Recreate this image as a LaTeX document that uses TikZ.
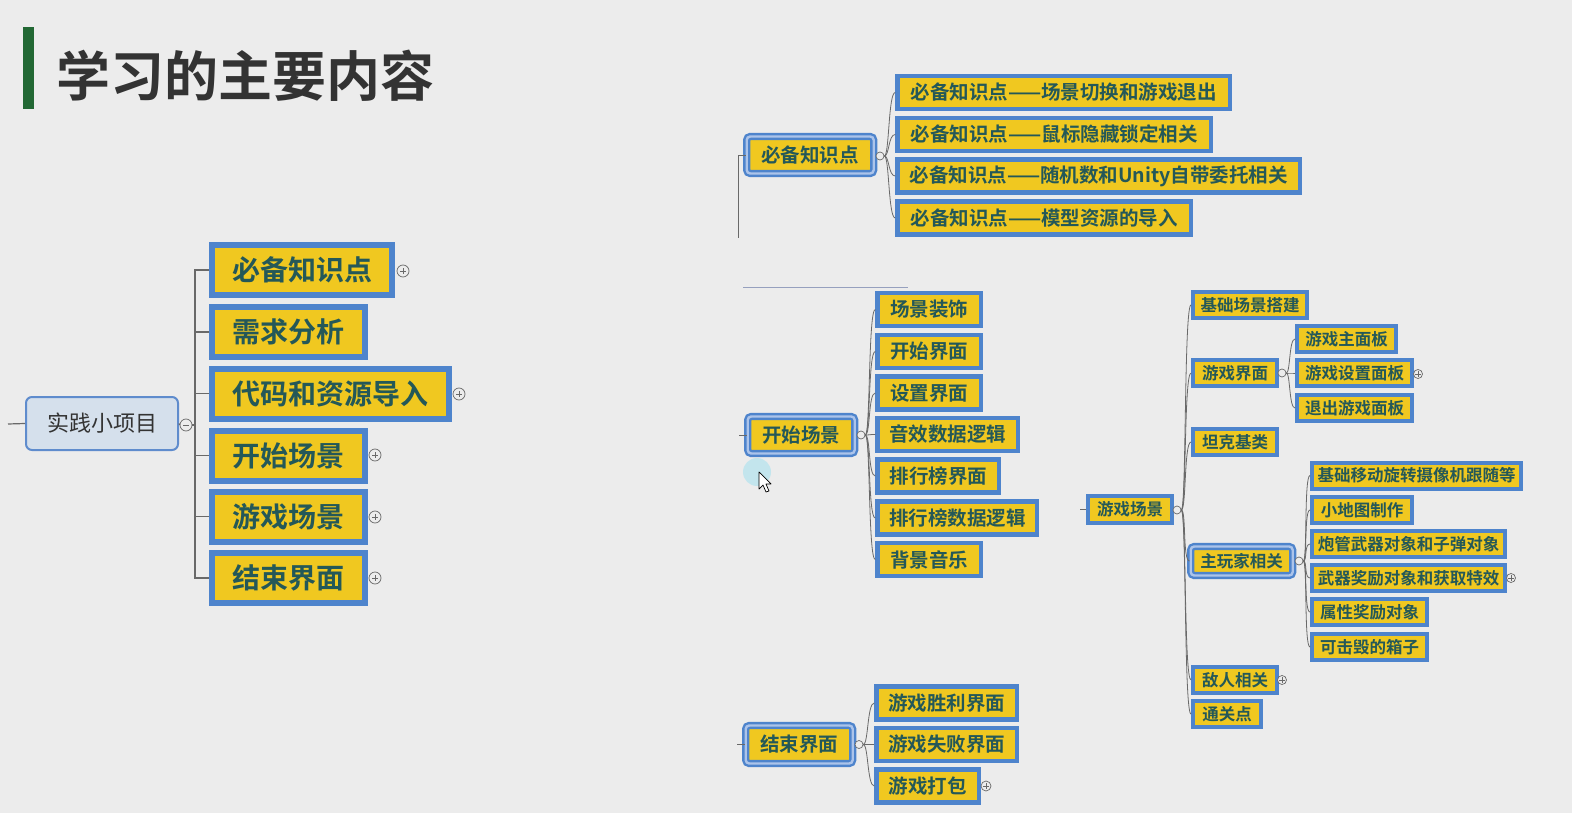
\documentclass[tikz,border=0pt]{standalone}
\usepackage{fontspec}
\setmainfont{Noto Sans CJK SC}[BoldFont={Noto Sans CJK SC Bold}]
\definecolor{bg}{RGB}{236,236,236}
\definecolor{yel}{RGB}{240,200,32}
\definecolor{blu}{RGB}{78,132,204}
\definecolor{txt}{RGB}{36,88,88}
\definecolor{dbl}{RGB}{172,196,234}
\definecolor{rootfill}{RGB}{213,224,236}
\definecolor{rootdraw}{RGB}{95,140,205}
\definecolor{ttl}{RGB}{51,51,51}
\definecolor{grn}{RGB}{34,104,52}
\definecolor{conn}{RGB}{105,105,105}
\definecolor{cur}{RGB}{185,228,238}
\tikzset{
  fs/.style={font=\bfseries\fontsize{#1}{#1}\selectfont},
  boxbase/.style={anchor=west,fill=yel,draw=blu,text=txt,inner sep=0pt},
  big/.style={boxbase,line width=6pt,fs=28,minimum height=50},
  item/.style={boxbase,line width=4.5pt,fs=19.5,minimum height=33},
  sitem/.style={boxbase,line width=4pt,fs=16.5,minimum height=26},
  par/.style={boxbase,line width=2.4pt,double=dbl,double distance=2.4pt,rounded corners=3.5pt,fs=19.5,minimum height=37},
  spar/.style={par,fs=16.5,minimum height=29},
  oc/.style={circle,draw=conn,line width=0.7pt,fill=bg,minimum size=8,inner sep=0pt},
  pls/.style={circle,draw=conn,line width=0.7pt,fill=bg,minimum size=#1,inner sep=0pt,
    path picture={\draw[line width=0.7pt,conn]
      ([xshift=-2.8pt]path picture bounding box.center) -- ([xshift=2.8pt]path picture bounding box.center)
      ([yshift=-2.8pt]path picture bounding box.center) -- ([yshift=2.8pt]path picture bounding box.center);}},
  mns/.style={circle,draw=conn,line width=0.7pt,fill=bg,minimum size=12,inner sep=0pt,
    path picture={\draw[line width=0.7pt,conn]
      ([xshift=-3pt]path picture bounding box.center) -- ([xshift=3pt]path picture bounding box.center);}},
  lconn/.style={draw=conn,line width=1.2pt},
  rconn/.style={draw=conn,line width=0.8pt},
}
\begin{document}
\begin{tikzpicture}[x=1pt,y=-1pt]
\useasboundingbox (0,0) rectangle (1572,813);
\fill[bg] (0,0) rectangle (1572,813);

% title
\fill[grn] (23,27) rectangle (34,109);
\node[anchor=west,inner sep=0pt,text=ttl,fs=54] (title) at (56,76) {学习的主要内容};

% ---------- left mind map ----------
\node[anchor=west,fill=rootfill,draw=rootdraw,line width=2pt,rounded corners=6pt,
      minimum width=152,minimum height=53,inner sep=0pt,text=ttl,
      font=\fontsize{22}{22}\selectfont] (root) at (25,423.5) {实践小项目};
\coordinate (rl) at (8,424);
\draw[lconn] (rl) -- (root.west);
\node[mns] (rm) at (186,425) {};
\draw[lconn] (root.east) -- (rm.west);
\coordinate (sp) at (195,425);

\node[big,minimum width=180] (L1) at (209,270) {必备知识点};
\node[big,minimum width=153] (L2) at (209,332) {需求分析};
\node[big,minimum width=237] (L3) at (209,393.5) {代码和资源导入};
\node[big,minimum width=153] (L4) at (209,455.5) {开始场景};
\node[big,minimum width=153] (L5) at (209,516.5) {游戏场景};
\node[big,minimum width=153] (L6) at (209,578) {结束界面};
\foreach \n in {L1,L2,L3,L4,L5,L6}{\draw[lconn] (rm.east) -- (sp) |- (\n.west);}
\node[pls=12] (lp1) at (403,271) {};
\node[pls=12] (lp3) at (459,394) {};
\node[pls=12] (lp4) at (375,455) {};
\node[pls=12] (lp5) at (375,517) {};
\node[pls=12] (lp6) at (375,578) {};

% ---------- right: 必备知识点 ----------
\node[par,minimum width=127] (A) at (745.5,155) {必备知识点};
\coordinate (Av) at (738,238);
\draw[rconn] (Av) |- (A.west);
\node[oc] (Ac) at (880,156) {};
\node[item,minimum width=332.5] (A1) at (895.25,92.5) {必备知识点——场景切换和游戏退出};
\node[item,minimum width=313.5] (A2) at (895.25,134.5) {必备知识点——鼠标隐藏锁定相关};
\node[item,minimum width=402.5] (A3) at (895.25,176) {必备知识点——随机数和Unity自带委托相关};
\node[item,minimum width=293.5] (A4) at (895.25,218) {必备知识点——模型资源的导入};
\foreach \n in {A1,A2,A3,A4}{\draw[rconn] (Ac.east) .. controls +(5,0) and +(-7,0) .. (\n.west);}

% separator line
\coordinate (s1) at (743,287);
\coordinate (s2) at (908,287);
\draw[draw={rgb,255:red,150;green,160;blue,190},line width=0.8pt] (s1) -- (s2);

% ---------- right: 开始场景 ----------
\node[par,minimum width=107] (B) at (746.5,435) {开始场景};
\coordinate (Bl) at (739,435);
\draw[rconn] (Bl) -- (B.west);
\node[oc] (Bc) at (861,435) {};
\node[item,minimum width=103.5] (B1) at (875.25,309.5) {场景装饰};
\node[item,minimum width=103.5] (B2) at (875.25,351.5) {开始界面};
\node[item,minimum width=103.5] (B3) at (875.25,393) {设置界面};
\node[item,minimum width=140.5] (B4) at (875.25,434.5) {音效数据逻辑};
\node[item,minimum width=121.5] (B5) at (875.25,476) {排行榜界面};
\node[item,minimum width=159.5] (B6) at (875.25,518) {排行榜数据逻辑};
\node[item,minimum width=103.5] (B7) at (875.25,559.5) {背景音乐};
\foreach \n in {B1,B2,B3,B4,B5,B6,B7}{\draw[rconn] (Bc.east) .. controls +(5,0) and +(-7,0) .. (\n.west);}

% cursor
\fill[cur,opacity=0.8] (757,472) circle (14);
\draw[black,line width=0.7pt,fill=white,line join=round] (759,472) -- (759,489) -- (763,485) -- (766,492) -- (769,491) -- (766,484) -- (771,484) -- cycle;

% ---------- right: 结束界面 ----------
\node[par,minimum width=107,minimum height=38] (C) at (744.5,744.5) {结束界面};
\coordinate (Cl) at (737,744.5);
\draw[rconn] (Cl) -- (C.west);
\node[oc] (Cc) at (859,744.5) {};
\node[item,minimum width=140.5] (C1) at (874.25,703) {游戏胜利界面};
\node[item,minimum width=140.5] (C2) at (874.25,744.5) {游戏失败界面};
\node[item,minimum width=102.5] (C3) at (874.25,786) {游戏打包};
\foreach \n in {C1,C2,C3}{\draw[rconn] (Cc.east) .. controls +(5,0) and +(-7,0) .. (\n.west);}
\node[pls=10] (Cp) at (986,786) {};

% ---------- right: 游戏场景 ----------
\node[sitem,minimum width=84,minimum height=27] (D) at (1086,509.5) {游戏场景};
\coordinate (Dl) at (1080,509.5);
\draw[rconn] (Dl) -- (D.west);
\node[oc] (Dc) at (1177,510) {};
\node[sitem,minimum width=114] (D1) at (1191,305) {基础场景搭建};
\node[sitem,minimum width=84] (D2) at (1191,373) {游戏界面};
\node[sitem,minimum width=84] (D3) at (1191,442) {坦克基类};
\node[spar,minimum width=102] (D4) at (1189.5,561) {主玩家相关};
\node[sitem,minimum width=84] (D5) at (1191,680) {敌人相关};
\node[sitem,minimum width=68] (D6) at (1191,714) {通关点};
\foreach \n in {D1,D2,D3,D4,D5,D6}{\draw[rconn] (Dc.east) .. controls +(5,0) and +(-7,0) .. (\n.west);}
\node[pls=9] (D5p) at (1282,680) {};

\node[oc] (D2c) at (1282,373) {};
\node[sitem,minimum width=99] (E1) at (1295,339) {游戏主面板};
\node[sitem,minimum width=115] (E2) at (1295,373) {游戏设置面板};
\node[sitem,minimum width=115] (E3) at (1295,408) {退出游戏面板};
\foreach \n in {E1,E2,E3}{\draw[rconn] (D2c.east) .. controls +(4,0) and +(-6,0) .. (\n.west);}
\node[pls=9] (E2p) at (1418,374) {};

\node[oc] (D4c) at (1299,561) {};
\node[sitem,minimum width=209] (F1) at (1310,475.5) {基础移动旋转摄像机跟随等};
\node[sitem,minimum width=100] (F2) at (1310,510) {小地图制作};
\node[sitem,minimum width=193] (F3) at (1310,544) {炮管武器对象和子弹对象};
\node[sitem,minimum width=193] (F4) at (1310,578) {武器奖励对象和获取特效};
\node[sitem,minimum width=115] (F5) at (1310,612) {属性奖励对象};
\node[sitem,minimum width=115] (F6) at (1310,647) {可击毁的箱子};
\foreach \n in {F1,F2,F3,F4,F5,F6}{\draw[rconn] (D4c.east) .. controls +(4,0) and +(-6,0) .. (\n.west);}
\node[pls=9] (F4p) at (1511,578) {};
\end{tikzpicture}
\end{document}
